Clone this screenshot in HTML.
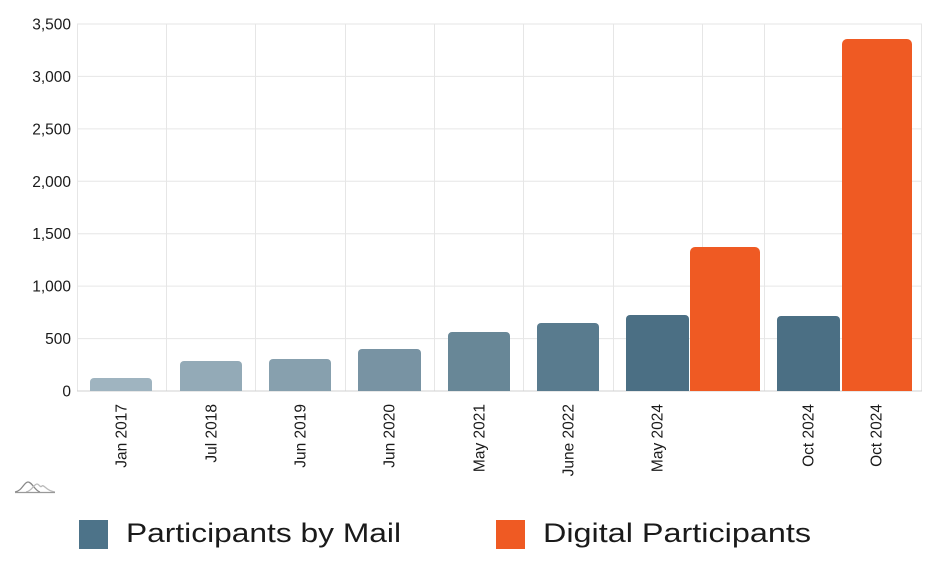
<!DOCTYPE html>
<html><head><meta charset="utf-8"><style>
html,body{margin:0;padding:0;background:#fff;width:940px;height:570px;overflow:hidden}
svg{display:block}
text{font-family:"Liberation Sans",Arial,sans-serif;fill:#1a1a1a}
</style></head><body>
<svg width="940" height="570" viewBox="0 0 940 570" xmlns="http://www.w3.org/2000/svg">
<g stroke="#e6e6e6" stroke-width="1">
<line x1="77" y1="24" x2="922" y2="24"/>
<line x1="77" y1="76.4" x2="922" y2="76.4"/>
<line x1="77" y1="128.9" x2="922" y2="128.9"/>
<line x1="77" y1="181.3" x2="922" y2="181.3"/>
<line x1="77" y1="233.7" x2="922" y2="233.7"/>
<line x1="77" y1="286.1" x2="922" y2="286.1"/>
<line x1="77" y1="338.6" x2="922" y2="338.6"/>
<line x1="77.5" y1="24" x2="77.5" y2="391"/>
<line x1="166.5" y1="24" x2="166.5" y2="391"/>
<line x1="255.5" y1="24" x2="255.5" y2="391"/>
<line x1="345.5" y1="24" x2="345.5" y2="391"/>
<line x1="434.5" y1="24" x2="434.5" y2="391"/>
<line x1="523.5" y1="24" x2="523.5" y2="391"/>
<line x1="613.5" y1="24" x2="613.5" y2="391"/>
<line x1="702.5" y1="24" x2="702.5" y2="391"/>
<line x1="764.5" y1="24" x2="764.5" y2="391"/>
<line x1="921.5" y1="24" x2="921.5" y2="391"/>
</g>
<line x1="77" y1="391" x2="922" y2="391" stroke="#d0d0d0" stroke-width="1"/>
<g>
<path d="M90,391 V382 a4,4 0 0 1 4,-4 H148 a4,4 0 0 1 4,4 V391 Z" fill="#9fb4c0"/>
<path d="M180,391 V365 a4,4 0 0 1 4,-4 H238 a4,4 0 0 1 4,4 V391 Z" fill="#93aab7"/>
<path d="M269,391 V363 a4,4 0 0 1 4,-4 H327 a4,4 0 0 1 4,4 V391 Z" fill="#87a0ae"/>
<path d="M358,391 V353 a4,4 0 0 1 4,-4 H417 a4,4 0 0 1 4,4 V391 Z" fill="#7893a3"/>
<path d="M448,391 V336 a4,4 0 0 1 4,-4 H506 a4,4 0 0 1 4,4 V391 Z" fill="#688797"/>
<path d="M537,391 V327 a4,4 0 0 1 4,-4 H595 a4,4 0 0 1 4,4 V391 Z" fill="#597b8e"/>
<path d="M626,391 V319 a4,4 0 0 1 4,-4 H685 a4,4 0 0 1 4,4 V391 Z" fill="#4b6f84"/>
<path d="M690,391 V252 a5,5 0 0 1 5,-5 H755 a5,5 0 0 1 5,5 V391 Z" fill="#ef5a23"/>
<path d="M777,391 V320 a4,4 0 0 1 4,-4 H836 a4,4 0 0 1 4,4 V391 Z" fill="#4b6f84"/>
<path d="M842,391 V44 a5,5 0 0 1 5,-5 H907 a5,5 0 0 1 5,5 V391 Z" fill="#ef5a23"/>
</g>
<g font-size="15.5" text-anchor="end">
<text x="71" y="29.5">3,500</text>
<text x="71" y="82">3,000</text>
<text x="71" y="134.5">2,500</text>
<text x="71" y="187">2,000</text>
<text x="71" y="239">1,500</text>
<text x="71" y="291.5">1,000</text>
<text x="71" y="344">500</text>
<text x="71" y="396.5">0</text>
</g>
<g font-size="15.5" text-anchor="end">
<text transform="translate(126.5,404) rotate(-90)">Jan 2017</text>
<text transform="translate(216.5,404) rotate(-90)">Jul 2018</text>
<text transform="translate(305.5,404) rotate(-90)">Jun 2019</text>
<text transform="translate(394.5,404) rotate(-90)">Jun 2020</text>
<text transform="translate(484.5,404) rotate(-90)">May 2021</text>
<text transform="translate(573.5,404) rotate(-90)">June 2022</text>
<text transform="translate(662.5,404) rotate(-90)">May 2024</text>
<text transform="translate(813.5,404) rotate(-90)">Oct 2024</text>
<text transform="translate(881.5,404) rotate(-90)">Oct 2024</text>
</g>
<g fill="none" stroke-width="1.3">
<path d="M15,492 C22,491 24,482 28,482 C32,482 35,491 40,492" stroke="#888"/>
<path d="M26,492 C32,491 34,484 37,484 C39,484 40,488 42,486 C44,484 46,491 55,492" stroke="#bbb"/>
<line x1="15" y1="492.5" x2="55" y2="492.5" stroke="#999"/>
</g>
<rect x="79" y="520" width="29" height="29" fill="#4d7389"/>
<text x="126" y="542" font-size="27" fill="#222" textLength="275" lengthAdjust="spacingAndGlyphs">Participants by Mail</text>
<rect x="496" y="520" width="29" height="29" fill="#ef5a23"/>
<text x="543" y="542" font-size="27" fill="#222" textLength="268" lengthAdjust="spacingAndGlyphs">Digital Participants</text>
</svg>
</body></html>
